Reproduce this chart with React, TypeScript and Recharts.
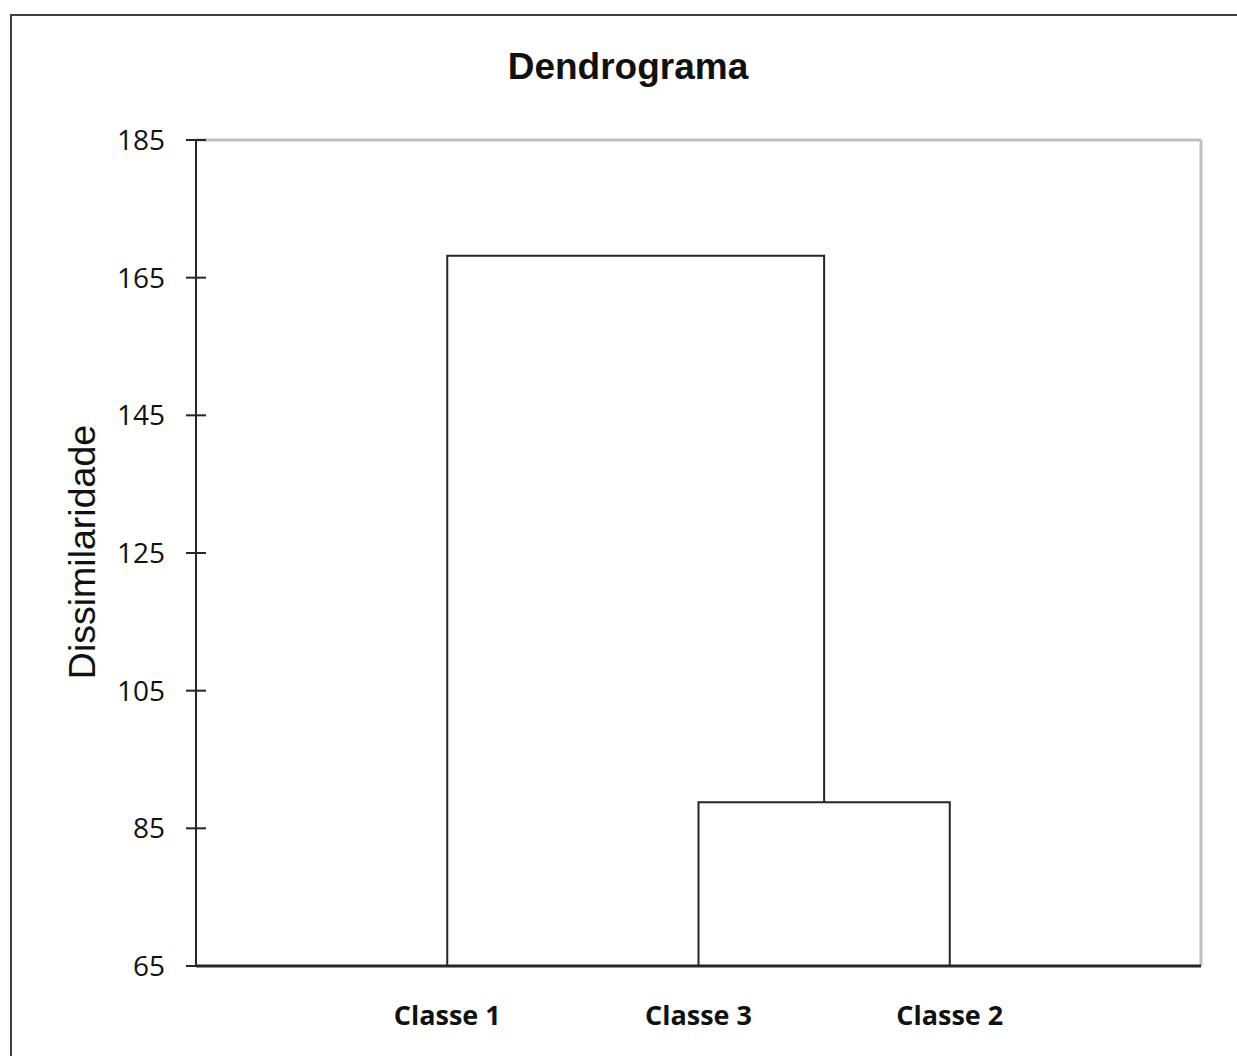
import React from "react";
import {
  LineChart,
  Line,
  XAxis,
  YAxis,
  ReferenceLine,
} from "recharts";

// leaves in dendrogram order
const classes = ["Classe 1", "Classe 3", "Classe 2"];
const leafPositions = [1, 2, 3];
// heights where the clusters merge
const mergeLow = 88.8; // Classe 3 + Classe 2
const mergeHigh = 168.2; // Classe 1 + (Classe 3, Classe 2)
const yTicks = [65, 85, 105, 125, 145, 165, 185];
const yMin = 65;
const yMax = 185;

// build the link segments (x = leaf position, y = dissimilarity)
const lowMid = (leafPositions[1] + leafPositions[2]) / 2;
const linkLow = [
  { x: leafPositions[1], y: yMin },
  { x: leafPositions[1], y: mergeLow },
  { x: leafPositions[2], y: mergeLow },
  { x: leafPositions[2], y: yMin },
];
const linkHigh = [
  { x: leafPositions[0], y: yMin },
  { x: leafPositions[0], y: mergeHigh },
  { x: lowMid, y: mergeHigh },
  { x: lowMid, y: mergeLow },
];

const lineColor = "#262626";
const frameColor = "#c0c0c0";

const YTick = (props: any) => {
  const { x, y, payload } = props;
  return (
    <g>
      <line x1={x - 10} x2={x + 10} y1={y} y2={y} stroke={lineColor} strokeWidth={2} />
      <text
        x={x - 31}
        y={y - 1}
        textAnchor="end"
        dominantBaseline="central"
        fontFamily="'Open Sans', sans-serif"
        fontSize={28}
        fill="#111"
      >
        {payload.value}
      </text>
    </g>
  );
};

export default function App() {
  return (
    <div
      style={{
        position: "absolute",
        left: 0,
        top: 0,
        width: 1237,
        height: 1056,
        background: "#fff",
        overflow: "hidden",
      }}
    >
      <div
        style={{
          position: "absolute",
          left: 10,
          top: 14,
          width: 1260,
          height: 1100,
          border: "2px solid #404040",
          boxSizing: "border-box",
        }}
      />
      <div
        style={{
          position: "absolute",
          left: 428,
          top: 48,
          width: 400,
          textAlign: "center",
          fontFamily: "'Liberation Sans', Arial, sans-serif",
          fontWeight: "bold",
          fontSize: 37,
          lineHeight: "37px",
          color: "#111",
        }}
      >
        Dendrograma
      </div>
      <div
        style={{
          position: "absolute",
          left: 81.5 - 200,
          top: 552 - 20,
          width: 400,
          height: 40,
          lineHeight: "40px",
          textAlign: "center",
          transform: "rotate(-90deg)",
          fontFamily: "'Liberation Sans', Arial, sans-serif",
          fontSize: 37.5,
          color: "#111",
        }}
      >
        Dissimilaridade
      </div>
      <div style={{ position: "absolute", left: 0, top: 0 }}>
        <LineChart
          width={1237}
          height={1056}
          margin={{ top: 140, right: 36, left: 0, bottom: 0 }}
        >
          <ReferenceLine y={yMax} stroke={frameColor} strokeWidth={3} />
          <ReferenceLine x={4} stroke={frameColor} strokeWidth={3} />
          <XAxis
            dataKey="x"
            type="number"
            domain={[0, 4]}
            ticks={leafPositions}
            tickFormatter={(v: number) => classes[leafPositions.indexOf(v)] ?? ""}
            height={90}
            tickLine={false}
            tickSize={0}
            tickMargin={40}
            axisLine={{ stroke: lineColor, strokeWidth: 3 }}
            tick={{
              fontFamily: "'Open Sans', sans-serif",
              fontWeight: "bold",
              fontSize: 27,
              fill: "#111",
            }}
            allowDataOverflow
          />
          <YAxis
            type="number"
            domain={[yMin, yMax]}
            ticks={yTicks}
            width={196}
            tickSize={0}
            tickMargin={0}
            tickLine={false}
            axisLine={{ stroke: lineColor, strokeWidth: 2 }}
            tick={YTick}
            allowDataOverflow
          />
          <Line
            data={linkLow}
            dataKey="y"
            type="linear"
            stroke={lineColor}
            strokeWidth={2}
            dot={false}
            isAnimationActive={false}
          />
          <Line
            data={linkHigh}
            dataKey="y"
            type="linear"
            stroke={lineColor}
            strokeWidth={2}
            dot={false}
            isAnimationActive={false}
          />
        </LineChart>
      </div>
    </div>
  );
}
